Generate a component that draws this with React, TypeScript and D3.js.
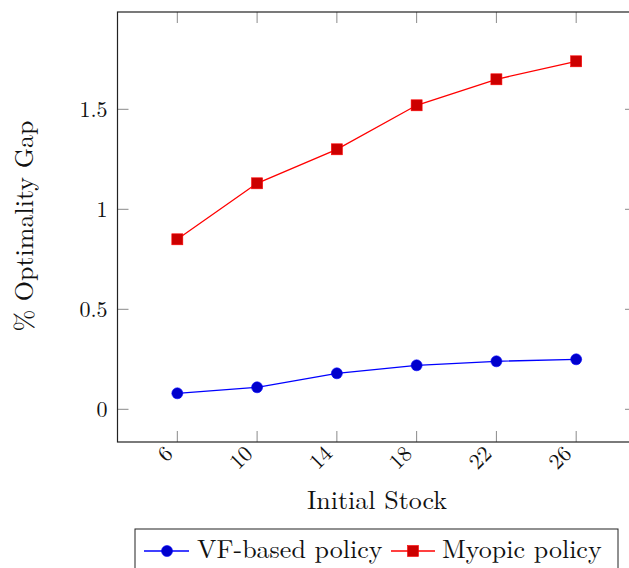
import React, { useEffect, useRef } from "react";
import * as d3 from "d3";

// Initial stock levels (x axis)
const stocks = [6, 10, 14, 18, 22, 26];
// % optimality gap for each policy
const vfPolicy = [0.08, 0.11, 0.18, 0.22, 0.24, 0.25];
const myopicPolicy = [0.85, 1.13, 1.3, 1.52, 1.65, 1.74];
const yTicks = [0, 0.5, 1, 1.5];
const yTickLabels = ["0", "0.5", "1", "1.5"];
const seriesNames = ["VF-based policy", "Myopic policy"];

const W = 629;
const H = 568;
const FONT = "'Latin Modern Roman', 'CMU Serif', 'Liberation Serif', serif";

export default function App() {
  const ref = useRef<SVGSVGElement | null>(null);

  useEffect(() => {
    const svg = d3.select(ref.current);
    svg.selectAll("*").remove();

    const left = 117.5, right = 636, top = 12, bottom = 442;
    const x = d3.scaleLinear().domain([3, 29]).range([left, right]);
    const y = d3.scaleLinear().domain([-0.1635, 1.9865]).range([bottom, top]);

    const g = svg.append("g");
    const tickLen = 11;
    const tickColor = "#8a8a8a";

    // ticks on all four sides
    stocks.forEach((s) => {
      g.append("line").attr("x1", x(s)).attr("x2", x(s)).attr("y1", bottom).attr("y2", bottom - tickLen)
        .attr("stroke", tickColor).attr("stroke-width", 1);
      g.append("line").attr("x1", x(s)).attr("x2", x(s)).attr("y1", top).attr("y2", top + tickLen)
        .attr("stroke", tickColor).attr("stroke-width", 1);
    });
    yTicks.forEach((t) => {
      g.append("line").attr("x1", left).attr("x2", left + tickLen).attr("y1", y(t)).attr("y2", y(t))
        .attr("stroke", tickColor).attr("stroke-width", 1);
      g.append("line").attr("x1", right).attr("x2", right - tickLen).attr("y1", y(t)).attr("y2", y(t))
        .attr("stroke", tickColor).attr("stroke-width", 1);
    });

    // frame
    g.append("rect").attr("x", left).attr("y", top).attr("width", right - left).attr("height", bottom - top)
      .attr("fill", "none").attr("stroke", "#222").attr("stroke-width", 1.2);

    const tickFont = 22;

    // y tick labels
    yTicks.forEach((t, i) => {
      g.append("text").attr("x", left - 10).attr("y", y(t) + 7.5)
        .attr("text-anchor", "end").attr("font-family", FONT).attr("font-size", tickFont)
        .attr("fill", "#111").text(yTickLabels[i]);
    });

    // x tick labels, rotated
    stocks.forEach((s) => {
      const tx = x(s) - 3.3, ty = 455;
      g.append("text").attr("transform", `translate(${tx},${ty}) rotate(-45)`)
        .attr("text-anchor", "end").attr("font-family", FONT).attr("font-size", tickFont)
        .attr("fill", "#111").text(String(s));
    });

    const labelFont = 26;

    // axis titles
    g.append("text").attr("x", 377).attr("y", 509).attr("text-anchor", "middle")
      .attr("font-family", FONT).attr("font-size", labelFont)
      .attr("fill", "#111").text("Initial Stock");
    g.append("text").attr("transform", `translate(32.5,226) rotate(-90)`).attr("text-anchor", "middle")
      .attr("font-family", FONT).attr("font-size", labelFont)
      .attr("fill", "#111").text("% Optimality Gap");

    const line = d3.line<number>().x((_, i) => x(stocks[i])).y((d) => y(d));

    // VF-based policy
    g.append("path").attr("d", line(vfPolicy)).attr("fill", "none").attr("stroke", "#0000ff").attr("stroke-width", 1.3);
    g.selectAll(".vf").data(vfPolicy).enter().append("circle")
      .attr("cx", (_, i) => x(stocks[i])).attr("cy", (d) => y(d)).attr("r", 5.5)
      .attr("fill", "#0000cc").attr("stroke", "#0000ff").attr("stroke-width", 0.6);

    // Myopic policy
    g.append("path").attr("d", line(myopicPolicy)).attr("fill", "none").attr("stroke", "#ff0000").attr("stroke-width", 1.3);
    g.selectAll(".my").data(myopicPolicy).enter().append("rect")
      .attr("x", (_, i) => x(stocks[i]) - 5.5).attr("y", (d) => y(d) - 5.5).attr("width", 11).attr("height", 11)
      .attr("fill", "#cc0000").attr("stroke", "#ff0000").attr("stroke-width", 0.6);

    // legend
    const lg = svg.append("g");
    lg.append("rect").attr("x", 135).attr("y", 529).attr("width", 483).attr("height", 50)
      .attr("fill", "white").attr("stroke", "#222").attr("stroke-width", 1);
    const ly = 551;
    lg.append("line").attr("x1", 144).attr("x2", 189).attr("y1", ly).attr("y2", ly).attr("stroke", "#0000ff").attr("stroke-width", 1.3);
    lg.append("circle").attr("cx", 167).attr("cy", ly).attr("r", 5.5).attr("fill", "#0000cc").attr("stroke", "#0000ff").attr("stroke-width", 0.6);
    lg.append("text").attr("x", 197).attr("y", 557.5).attr("font-family", FONT).attr("font-size", labelFont)
      .attr("fill", "#111").text(seriesNames[0]);
    lg.append("line").attr("x1", 391).attr("x2", 435).attr("y1", ly).attr("y2", ly).attr("stroke", "#ff0000").attr("stroke-width", 1.3);
    lg.append("rect").attr("x", 413 - 5.5).attr("y", ly - 5.5).attr("width", 11).attr("height", 11).attr("fill", "#cc0000").attr("stroke", "#ff0000").attr("stroke-width", 0.6);
    lg.append("text").attr("x", 442).attr("y", 557.5).attr("font-family", FONT).attr("font-size", labelFont)
      .attr("fill", "#111").text(seriesNames[1]);
  }, []);

  return (
    <svg ref={ref} width={W} height={H} style={{ position: "absolute", left: 0, top: 0, background: "white" }} />
  );
}
